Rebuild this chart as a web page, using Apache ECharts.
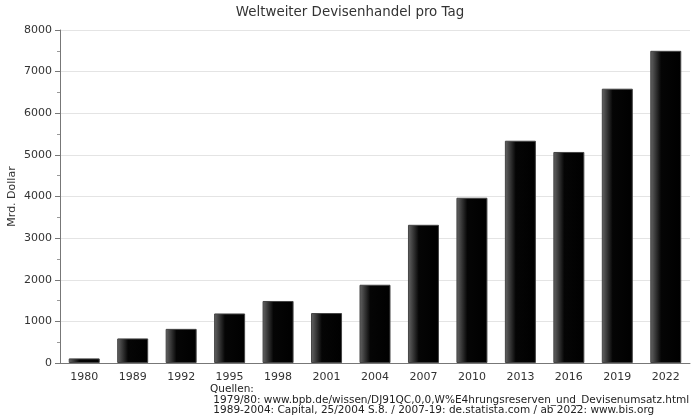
<!DOCTYPE html>
<html>
<head>
<meta charset="utf-8">
<script src="https://cdn.jsdelivr.net/npm/echarts@6/dist/echarts.min.js"></script>
<style>
  html, body { margin: 0; padding: 0; background: #fff; }
  #chart { width: 700px; height: 420px; }
</style>
</head>
<body>
<div id="chart"></div>
<script>
var years = ['1980', '1989', '1992', '1995', '1998', '2001', '2004', '2007', '2010', '2013', '2016', '2019', '2022']
var volume = [110, 590, 820, 1190, 1490, 1200, 1880, 3320, 3970, 5340, 5070, 6590, 7500]
var sourceLines = [
  'Quellen:',
  ' 1979/80: www.bpb.de/wissen/DJ91QC,0,0,W%E4hrungsreserven_und_Devisenumsatz.html',
  ' 1989-2004: Capital, 25/2004 S.8. / 2007-19: de.statista.com / ab 2022: www.bis.org'
]

var chart = echarts.init(document.getElementById('chart'))
var font = 'DejaVu Sans'

chart.setOption({
  animation: false,
  title: {
    text: 'Weltweiter Devisenhandel pro Tag',
    left: 'center',
    top: 1,
    textStyle: { fontFamily: font, fontSize: 13.4, fontWeight: 'normal', color: '#333' }
  },
  grid: { left: 60, right: 10, top: 30, bottom: 57, outerBoundsMode: 'none', containLabel: false },
  xAxis: {
    type: 'category',
    data: years,
    axisLine: { lineStyle: { color: '#777' } },
    axisTick: { show: false },
    axisLabel: { fontFamily: font, fontSize: 11, color: '#333', margin: 9 }
  },
  yAxis: {
    type: 'value',
    min: 0,
    max: 8000,
    interval: 1000,
    name: 'Mrd. Dollar',
    nameLocation: 'middle',
    nameGap: 42,
    nameMoveOverlap: false,
    nameTextStyle: { fontFamily: font, fontSize: 11, color: '#333' },
    axisLine: { show: true, lineStyle: { color: '#777' } },
    axisTick: { show: true, length: 5, lineStyle: { color: '#777' } },
    minorTick: { show: true, splitNumber: 2, length: 3, lineStyle: { color: '#999' } },
    splitLine: { lineStyle: { color: '#e4e4e4' } },
    axisLabel: {
      fontFamily: font, fontSize: 11, color: '#333', margin: 8,
      formatter: function (v) { return String(v) }
    }
  },
  series: [{
    type: 'bar',
    data: volume,
    barWidth: 31,
    itemStyle: {
      borderColor: '#444',
      borderWidth: 1,
      color: new echarts.graphic.LinearGradient(0, 0, 1, 0, [
        { offset: 0, color: '#666' },
        { offset: 0.35, color: '#050505' },
        { offset: 1, color: '#000' }
      ])
    }
  }],
  graphic: [{
    type: 'text',
    left: 210,
    top: 384,
    style: {
      text: sourceLines.join('\n'),
      font: '10.5px "DejaVu Sans"',
      lineHeight: 10.5,
      fill: '#222'
    }
  }]
})
</script>
</body>
</html>
